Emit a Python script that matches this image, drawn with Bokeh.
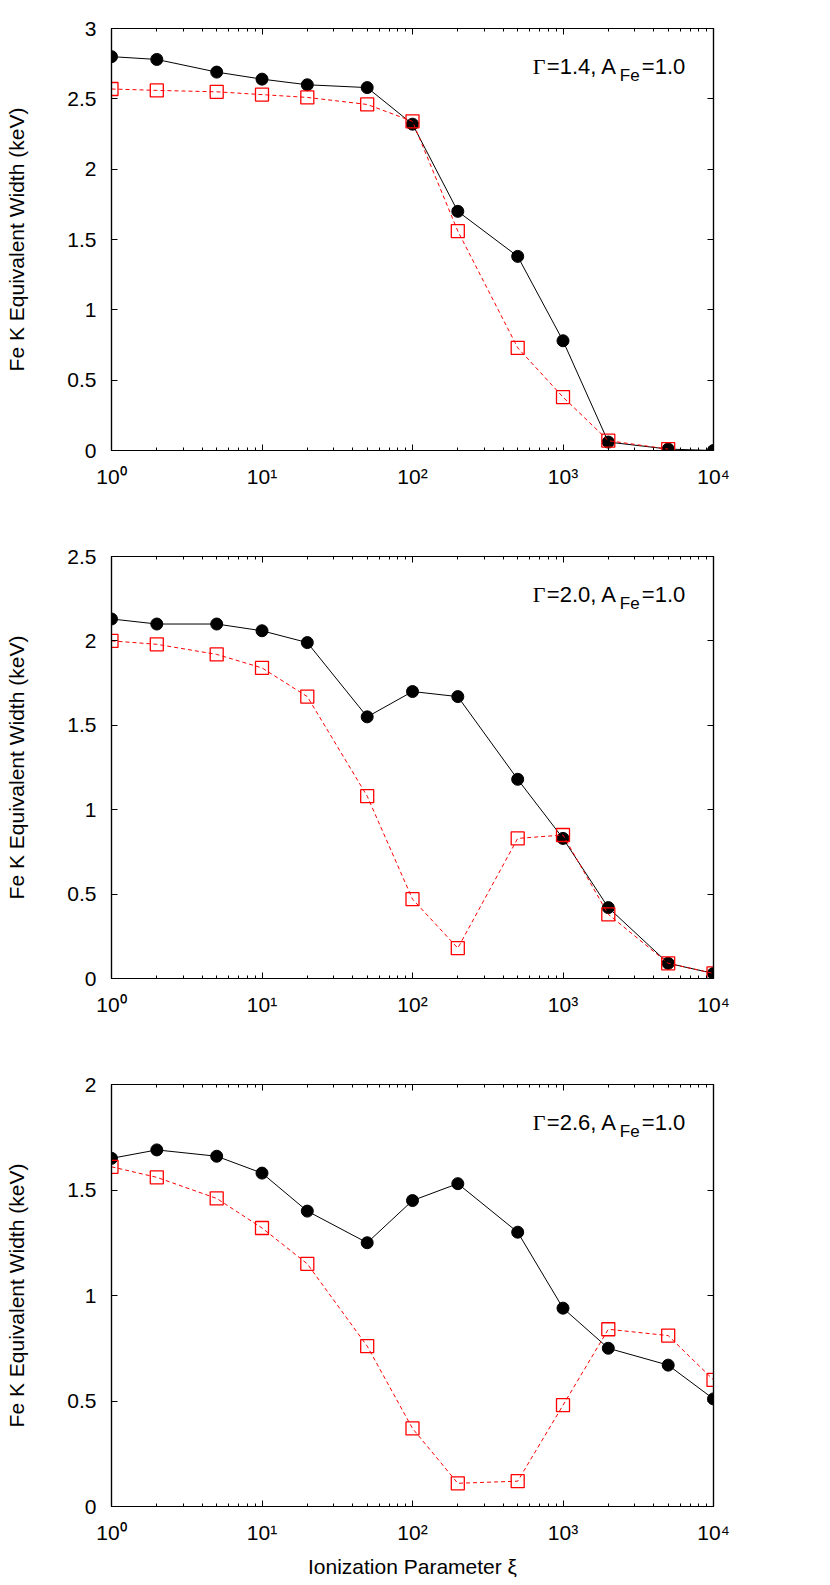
from bokeh.plotting import figure
from bokeh.models import (Range1d, FixedTicker, LinearAxis, LogAxis,
                          CustomJSTickFormatter, Label)
from bokeh.layouts import column
from bokeh.embed import file_html
from bokeh.resources import INLINE

# ---------------- data ----------------
xi = [1, 2, 5, 10, 20, 50, 100, 200, 500, 1000, 2000, 5000, 10000]

ew_black_g14 = [2.80, 2.78, 2.69, 2.64, 2.60, 2.58, 2.32, 1.70, 1.38, 0.78, 0.06, 0.01, 0.00]
ew_red_g14 = [2.57, 2.56, 2.55, 2.53, 2.51, 2.46, 2.34, 1.56, 0.73, 0.38, 0.07, 0.01]

ew_black_g20 = [2.13, 2.10, 2.10, 2.06, 1.99, 1.55, 1.70, 1.67, 1.18, 0.83, 0.42, 0.09, 0.03]
ew_red_g20 = [2.00, 1.98, 1.92, 1.84, 1.67, 1.08, 0.47, 0.18, 0.83, 0.85, 0.38, 0.09, 0.03]

ew_black_g26 = [1.65, 1.69, 1.66, 1.58, 1.40, 1.25, 1.45, 1.53, 1.30, 0.94, 0.75, 0.67, 0.51]
ew_red_g26 = [1.61, 1.56, 1.46, 1.32, 1.15, 0.76, 0.37, 0.11, 0.12, 0.48, 0.84, 0.81, 0.60]

gamma_values = ["1.4", "2.0", "2.6"]
afe_value = "1.0"
y_max_values = [3.0, 2.5, 2.0]
y_ticks_g14 = [0, 0.5, 1, 1.5, 2, 2.5, 3]
y_ticks_g20 = [0, 0.5, 1, 1.5, 2, 2.5]
y_ticks_g26 = [0, 0.5, 1, 1.5, 2]
x_major_ticks = [1, 10, 100, 1000, 10000]
x_minor_ticks = [m * d for d in [1, 10, 100, 1000] for m in range(2, 10)]

y_label = "Fe K Equivalent Width (keV)"
x_label = "Ionization Parameter \u03be"

FONT = "Liberation Sans"

X_FMT_CODE = """
const sup = ["\u2070", "\u00b9", "\u00b2", "\u00b3", "\u2074"];
const e = Math.round(Math.log10(tick));
return "10" + sup[e];
"""
Y_FMT_CODE = "return String(Math.round(tick*10)/10);"
EMPTY_FMT_CODE = "return '';"


def style_axis(ax, show_labels=True):
    ax.axis_line_color = "black"
    ax.axis_line_width = 1.2
    ax.major_tick_line_color = "black"
    ax.minor_tick_line_color = "black"
    ax.major_tick_in = 6
    ax.major_tick_out = 0
    ax.minor_tick_in = 3
    ax.minor_tick_out = 0
    ax.major_label_text_font = FONT
    ax.major_label_text_color = "black"
    ax.major_label_text_font_size = "21px"
    ax.axis_label_text_font = FONT
    ax.axis_label_text_font_style = "normal"
    ax.axis_label_text_color = "black"
    ax.axis_label_text_font_size = "21px"
    if not show_labels:
        ax.formatter = CustomJSTickFormatter(code=EMPTY_FMT_CODE)
        ax.major_label_standoff = 0


def make_panel(ymax, yticks, black, red, gamma, pos):
    top_border = 28 if pos == 0 else 20
    bottom_border = 77 if pos == 2 else 86
    height = top_border + 422 + bottom_border
    p = figure(width=815, height=height, x_axis_type="log",
               x_range=Range1d(1, 10000), y_range=Range1d(0, ymax),
               output_backend="svg", toolbar_location=None,
               min_border_left=111, min_border_top=top_border,
               min_border_bottom=bottom_border, min_border_right=102)
    p.background_fill_color = "white"
    p.border_fill_color = "white"
    p.outline_line_color = "black"
    p.outline_line_width = 1.2
    p.xgrid.visible = False
    p.ygrid.visible = False

    p.xaxis.ticker = FixedTicker(ticks=x_major_ticks, minor_ticks=x_minor_ticks)
    p.xaxis.formatter = CustomJSTickFormatter(code=X_FMT_CODE)
    p.yaxis.ticker = FixedTicker(ticks=yticks, minor_ticks=[])
    p.yaxis.formatter = CustomJSTickFormatter(code=Y_FMT_CODE)
    for ax in p.xaxis:
        style_axis(ax)
        ax.major_label_standoff = 14
        if pos == 2:
            ax.axis_label = x_label
            ax.axis_label_standoff = 8
    for ax in p.yaxis:
        style_axis(ax)
        ax.major_label_standoff = 15
        ax.axis_label = y_label
        ax.axis_label_standoff = 36

    top = LogAxis(ticker=FixedTicker(ticks=x_major_ticks, minor_ticks=x_minor_ticks))
    style_axis(top, show_labels=False)
    p.add_layout(top, "above")
    right = LinearAxis(ticker=FixedTicker(ticks=yticks, minor_ticks=[]))
    style_axis(right, show_labels=False)
    p.add_layout(right, "right")

    # black: filled circles, solid line
    p.line(xi[:len(black)], black, line_color="black", line_width=1)
    p.scatter(xi[:len(black)], black, marker="circle", size=12,
              fill_color="black", line_color="black")
    # red: open squares, dashed line
    p.line(xi[:len(red)], red, line_color="red", line_width=1, line_dash="4 3")
    p.scatter(xi[:len(red)], red, marker="square", size=13,
              fill_color=None, line_color="red", line_width=1.3)

    # annotation  Gamma=x.x, A_Fe=1.0
    x0 = 630
    yb = ymax * (1 - 50 / 422)
    p.add_layout(Label(x=x0, y=yb, text="\u0393", text_font="Liberation Serif",
                       text_font_size="22px", text_color="black"))
    p.add_layout(Label(x=x0, y=yb, x_offset=14, text="=" + gamma + ", A",
                       text_font=FONT, text_font_size="22px", text_color="black"))
    p.add_layout(Label(x=x0, y=yb, x_offset=87, y_offset=-6, text="Fe",
                       text_font=FONT, text_font_size="17px", text_color="black"))
    p.add_layout(Label(x=x0, y=yb, x_offset=109, text="=" + afe_value,
                       text_font=FONT, text_font_size="22px", text_color="black"))
    return p


p1 = make_panel(y_max_values[0], y_ticks_g14, ew_black_g14, ew_red_g14, gamma_values[0], 0)
p2 = make_panel(y_max_values[1], y_ticks_g20, ew_black_g20, ew_red_g20, gamma_values[1], 1)
p3 = make_panel(y_max_values[2], y_ticks_g26, ew_black_g26, ew_red_g26, gamma_values[2], 2)

layout = column(p1, p2, p3, spacing=0)

with open("out.html", "w") as f:
    f.write(file_html(layout, INLINE))
